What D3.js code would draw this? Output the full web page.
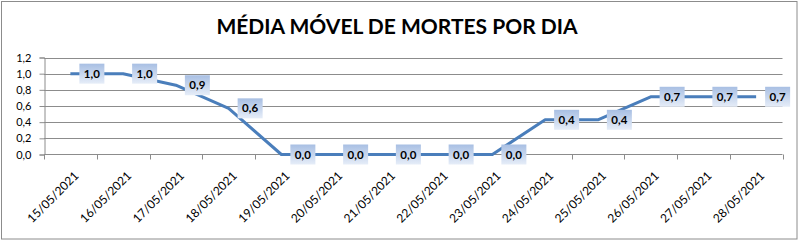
<!DOCTYPE html>
<html>
<head>
<meta charset="utf-8">
<script src="https://cdn.jsdelivr.net/npm/d3@7"></script>
<style>
  body { margin: 0; background: #fff; }
  svg { display: block; font-family: Lato, "Open Sans", sans-serif; }
</style>
</head>
<body>
<svg width="799" height="241"></svg>
<script>
// médias móveis de 7 dias (valores k/7)
const dates = ['15/05/2021', '16/05/2021', '17/05/2021', '18/05/2021', '19/05/2021',
               '20/05/2021', '21/05/2021', '22/05/2021', '23/05/2021', '24/05/2021',
               '25/05/2021', '26/05/2021', '27/05/2021', '28/05/2021']
const values = [1.0, 1.0, 0.857, 0.571, 0, 0, 0, 0, 0, 0.429, 0.429, 0.714, 0.714, 0.714]
const yTicks = [0, 0.2, 0.4, 0.6, 0.8, 1.0, 1.2]
const title = 'MÉDIA MÓVEL DE MORTES POR DIA'

const fmt = v => d3.format('.1f')(v).replace('.', ',')

const svg = d3.select('svg')

// moldura do gráfico
svg.append('rect')
   .attr('x', 1.5).attr('y', 1.5)
   .attr('width', 795.5).attr('height', 237.5)
   .attr('fill', '#fff')
   .attr('stroke', '#8c8c8c')

const grad = svg.append('defs').append('linearGradient')
   .attr('id', 'lbl').attr('x1', 0).attr('y1', 0).attr('x2', 0).attr('y2', 1)
grad.append('stop').attr('offset', '0%').attr('stop-color', '#a8bfe3')
grad.append('stop').attr('offset', '100%').attr('stop-color', '#e6edf8')

const xScale = d3.scaleBand()
                 .domain(dates)
                 .range([44, 782.5])

const yScale = d3.scaleLinear()
                 .domain([0, 1.2])
                 .range([154.5, 57.5])

// linhas de grade
svg.append('g')
   .selectAll('line')
   .data(yTicks.slice(1))
   .enter()
   .append('line')
   .attr('x1', 44).attr('x2', 782.5)
   .attr('y1', d => Math.round(yScale(d)) + 0.5)
   .attr('y2', d => Math.round(yScale(d)) + 0.5)
   .attr('stroke', '#8c8c8c')

// eixo Y
const yAxis = svg.append('g')
   .attr('transform', 'translate(44.5,0)')
   .call(d3.axisLeft(yScale).tickValues(yTicks).tickFormat(fmt).tickSizeOuter(0).tickSize(5).tickPadding(8))
yAxis.select('.domain').attr('stroke', '#8c8c8c')
yAxis.selectAll('.tick line').attr('stroke', '#8c8c8c')
yAxis.selectAll('.tick text').attr('fill', '#000').style('font-size', '11px')
     .style('font-family', 'Lato, sans-serif')

// eixo X (marcas entre categorias)
const xAxis = svg.append('g').attr('transform', 'translate(0,154.5)')
xAxis.append('line')
   .attr('x1', 44).attr('x2', 782.5)
   .attr('stroke', '#8c8c8c')
xAxis.selectAll('.tk')
   .data(dates.concat(['end']))
   .enter()
   .append('line')
   .attr('x1', (d, i) => Math.round(i < dates.length ? xScale(d) : xScale.range()[1]) + 0.5)
   .attr('x2', (d, i) => Math.round(i < dates.length ? xScale(d) : xScale.range()[1]) + 0.5)
   .attr('y1', 0).attr('y2', 5)
   .attr('stroke', '#8c8c8c')
xAxis.selectAll('.lbl')
   .data(dates)
   .enter()
   .append('text')
   .attr('transform', d => `translate(${xScale(d) + xScale.bandwidth() / 2 + 6},${19}) rotate(-45)`)
   .attr('text-anchor', 'end')
   .attr('dy', '0.35em')
   .style('font-size', '12px')
   .text(d => d)

// linha da série
const line = d3.line()
   .x((d, i) => xScale(dates[i]) + xScale.bandwidth() / 2)
   .y(d => yScale(d))

svg.append('path')
   .datum(values)
   .attr('d', line)
   .attr('fill', 'none')
   .attr('stroke', '#4a7ebb')
   .attr('stroke-width', 3)
   .attr('stroke-linejoin', 'round')

// rótulos de dados
const labels = svg.append('g')
   .selectAll('g')
   .data(values)
   .enter()
   .append('g')
   .attr('transform', (d, i) => `translate(${xScale(dates[i]) + xScale.bandwidth() / 2 + 9},${yScale(d)})`)

labels.append('rect')
   .attr('x', 0).attr('y', -10)
   .attr('width', 25).attr('height', 20)
   .attr('fill', 'url(#lbl)')

labels.append('text')
   .attr('x', 12.5).attr('y', 0)
   .attr('dy', '0.35em')
   .attr('text-anchor', 'middle')
   .style('font-size', '11.5px')
   .style('font-weight', 'bold')
   .text(d => fmt(d))

// título
svg.append('text')
   .attr('x', 397).attr('y', 33.5)
   .attr('text-anchor', 'middle')
   .style('font-size', '21px')
   .style('font-weight', 'bold')
   .text(title)
</script>
</body>
</html>
